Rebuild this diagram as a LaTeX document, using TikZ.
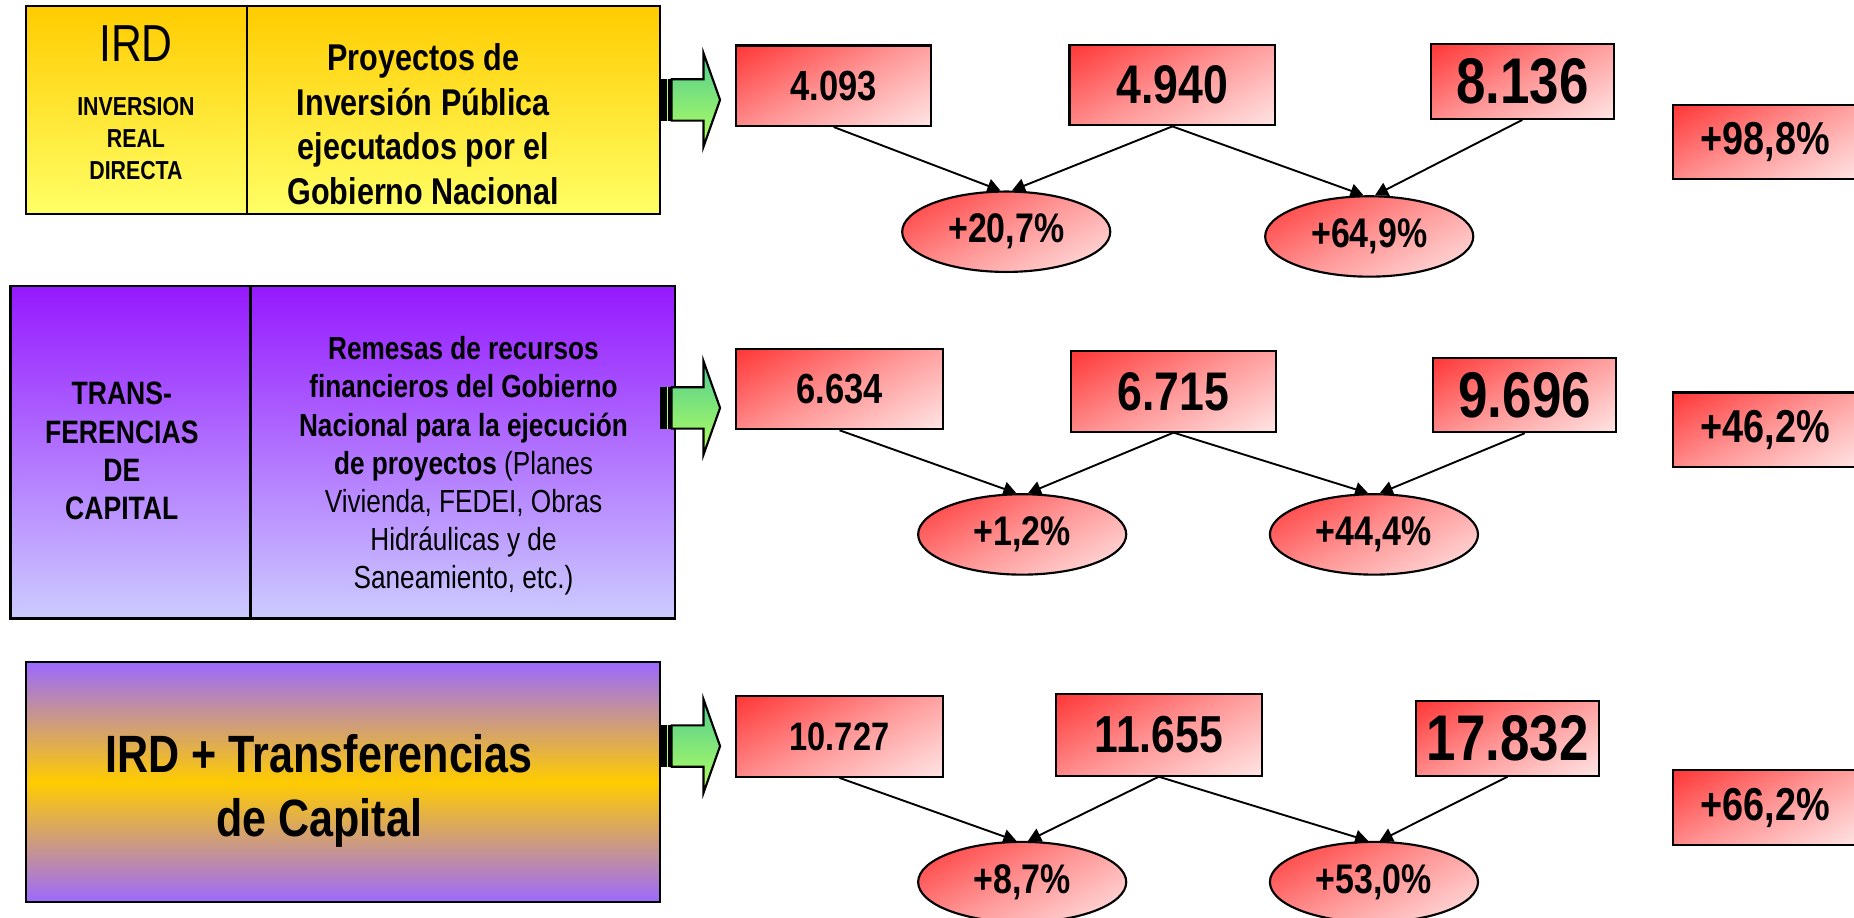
\documentclass[tikz,border=0pt]{standalone}
\usepackage{fontspec}
\setmainfont{Liberation Sans}[FakeStretch=0.82]
\usetikzlibrary{shapes.geometric,arrows.meta}
\definecolor{irdtop}{RGB}{255,204,0}
\definecolor{irdbot}{RGB}{255,255,102}
\definecolor{trtop}{RGB}{150,25,255}
\definecolor{trbot}{RGB}{204,204,255}
\definecolor{sumpurple}{RGB}{155,105,255}
\definecolor{sumgold}{RGB}{255,204,0}
\definecolor{valred}{RGB}{255,20,20}
\definecolor{valpink}{RGB}{255,150,150}
\definecolor{arrtop}{RGB}{80,205,145}
\definecolor{arrbot}{RGB}{180,255,95}
\pgfdeclareverticalshading{valdiag}{100bp}{color(0bp)=(white); color(5bp)=(white); color(50bp)=(valpink); color(96bp)=(valred); color(100bp)=(valred)}
\begin{document}
\begin{tikzpicture}[x=0.5pt, y=0.5pt,
	cell/.style={draw, line width=1pt, inner sep=0pt},
	irdcell/.style={cell, top color=irdtop, bottom color=irdbot, minimum height=88pt},
	trcell/.style={cell, top color=trtop, bottom color=trbot, minimum height=140.5pt},
	sumcell/.style={cell, top color=sumpurple, bottom color=sumpurple, middle color=sumgold, minimum width=268pt, minimum height=101.5pt},
	valbox/.style={draw, line width=0.9pt, inner sep=0pt, shade, shading=valdiag, shading angle=28},
	valS/.style={valbox, minimum width=87.5pt, minimum height=34pt, font=\fontsize{17.8}{20}\selectfont\bfseries},
	valM/.style={valbox, minimum width=87pt, minimum height=34pt, font=\fontsize{23}{26}\selectfont\bfseries},
	valL/.style={valbox, minimum width=77.5pt, minimum height=31.5pt, font=\fontsize{27.3}{30}\selectfont\bfseries},
	totbox/.style={valbox, minimum width=78pt, minimum height=31.5pt, font=\fontsize{19.5}{22}\selectfont\bfseries},
	pct/.style={ellipse, valbox, minimum width=88pt, minimum height=34pt, font=\fontsize{17.5}{20}\selectfont\bfseries},
	growth/.style={-{Triangle[length=5.5pt,width=6pt]}, line width=0.8pt},
	flowarrow/.style={draw, line width=0.9pt, top color=arrtop, bottom color=arrbot}]
	\useasboundingbox (0,0) rectangle (1568,776);

	%Draw IRD row
	\node[irdcell, minimum width=93.5pt]  (irdL) at (115.5,683) {};
	\node[irdcell, minimum width=174.5pt] (irdR) at (383.5,683) {};
	\node[font=\fontsize{22}{26}\selectfont] (irdname) at (115,739) {IRD};
	\node[align=center, font=\fontsize{11}{13.5}\selectfont\bfseries] (irdfull) at (115,658.5) {INVERSION\\REAL\\DIRECTA};
	\node[align=center, font=\fontsize{15.75}{18.8}\selectfont\bfseries] (irddesc) at (358,671)
		{Proyectos de\\Inversión Pública\\ejecutados por el\\Gobierno Nacional};
	\fill (558,674) rectangle (568,709);
	\draw[arrbot, line width=0.6pt] (564.5,674) -- (564.5,709);
	\draw[flowarrow] (568,709) -- ++(27,0) -- ++(0,22) -- ++(14,-39.5) -- ++(-14,-39.5) -- ++(0,22) -- ++(-27,0) -- cycle;

	\node[valS, minimum width=82.5pt] (a1) at (705,703.5)  {4.093};
	\node[valM]                       (a2) at (991.5,704)  {4.940};
	\node[valL]                       (a3) at (1287.5,707) {8.136};
	\node[totbox]                     (t1) at (1493,656)   {+98,8\%};
	\node[pct] (e11) at (851,580)  {+20,7\%};
	\node[pct] (e12) at (1158,576) {+64,9\%};
	\draw[growth] (a1.south) -- (e11.98);
	\draw[growth] (a2.south) -- (e11.82);
	\draw[growth] (a2.south) -- (e12.98);
	\draw[growth] (a3.south) -- (e12.82);

	%Draw transfer row
	\node[trcell, minimum width=101.5pt] (trL) at (110.5,393.5) {};
	\node[trcell, minimum width=179.5pt] (trR) at (391.5,393.5) {};
	\node[align=center, font=\fontsize{13.7}{16.2}\selectfont\bfseries] (trname) at (103,394.5) {TRANS-\\FERENCIAS\\DE\\CAPITAL};
	\node[align=center, font=\fontsize{13.5}{16.1}\selectfont] (trdesc) at (392,382)
		{\textbf{Remesas de recursos}\\\textbf{financieros del Gobierno}\\\textbf{Nacional para la ejecución}\\\textbf{de proyectos} (Planes\\Vivienda, FEDEI, Obras\\Hidráulicas y de\\Saneamiento, etc.)};
	\fill (558,413.5) rectangle (568,448.5);
	\draw[arrbot, line width=0.6pt] (564.5,413.5) -- (564.5,448.5);
	\draw[flowarrow] (568,448.5) -- ++(27,0) -- ++(0,22) -- ++(14,-39.5) -- ++(-14,-39.5) -- ++(0,22) -- ++(-27,0) -- cycle;

	\node[valS] (b1) at (710,447)    {6.634};
	\node[valM] (b2) at (992.5,445)  {6.715};
	\node[valL] (b3) at (1289.5,442) {9.696};
	\node[totbox] (t2) at (1493,412.5) {+46,2\%};
	\node[pct] (e21) at (864.5,324) {+1,2\%};
	\node[pct] (e22) at (1162,324)  {+44,4\%};
	\draw[growth] (b1.south) -- (e21.98);
	\draw[growth] (b2.south) -- (e21.82);
	\draw[growth] (b2.south) -- (e22.98);
	\draw[growth] (b3.south) -- (e22.82);

	%Draw total row
	\node[sumcell] (sum) at (290,114.5) {};
	\node[align=center, font=\fontsize{22.2}{27.3}\selectfont\bfseries] (sumdesc) at (270,107) {IRD + Transferencias\\de Capital};
	\fill (558,127.5) rectangle (568,162.5);
	\draw[arrbot, line width=0.6pt] (564.5,127.5) -- (564.5,162.5);
	\draw[flowarrow] (568,162.5) -- ++(27,0) -- ++(0,22) -- ++(14,-39.5) -- ++(-14,-39.5) -- ++(0,22) -- ++(-27,0) -- cycle;

	\node[valS, font=\fontsize{16.8}{20}\selectfont\bfseries] (c1) at (710,153) {10.727};
	\node[valM, font=\fontsize{22}{26}\selectfont\bfseries, minimum height=34.5pt] (c2) at (980,154.5) {11.655};
	\node[valL] (c3) at (1275,151.5) {17.832};
	\node[totbox] (t3) at (1493,93) {+66,2\%};
	\node[pct] (e31) at (864.5,30) {+8,7\%};
	\node[pct] (e32) at (1162,30)  {+53,0\%};
	\draw[growth] (c1.south) -- (e31.98);
	\draw[growth] (c2.south) -- (e31.82);
	\draw[growth] (c2.south) -- (e32.98);
	\draw[growth] (c3.south) -- (e32.82);
\end{tikzpicture}
\end{document}
